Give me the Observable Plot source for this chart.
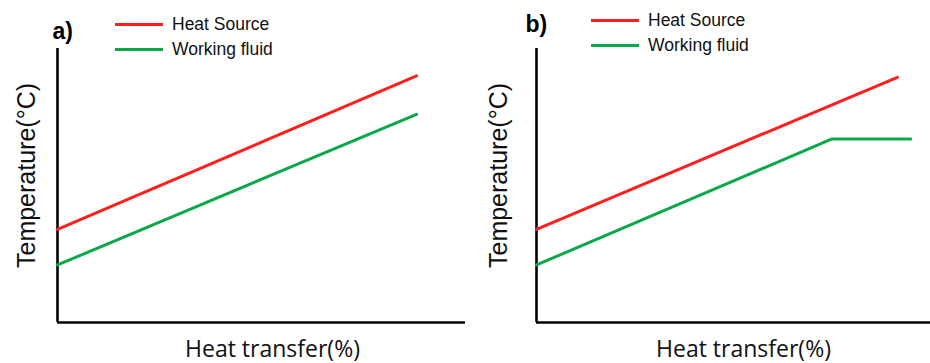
<!DOCTYPE html>
<html>
<head>
<meta charset="utf-8">
<script src="https://cdn.jsdelivr.net/npm/d3@7"></script>
<script src="https://cdn.jsdelivr.net/npm/@observablehq/plot@0.6"></script>
<style>
  html, body { margin: 0; padding: 0; background: #fff; }
  #wrap { position: relative; width: 930px; height: 363px; display: flex; }
  .legend { position: absolute; font-family: "Liberation Sans", Arial, sans-serif; font-size: 17.5px; color: #111; }
  .legend .row { display: flex; align-items: center; height: 25px; }
  .legend .sw { width: 48px; height: 3px; margin-right: 9px; }
</style>
</head>
<body>
<div id="wrap"></div>
<script>
// ---- data ----
const seriesNames = ["Heat Source", "Working fluid"];
const seriesColors = ["#ff1e1e", "#0ba84a"];
const panelLabels = ["a)", "b)"];
const xLabel = "Heat transfer(%)";
const yLabel = "Temperature(\u00B0C)";

// panel a (x: heat transfer %, y: temperature, arbitrary units 0-100)
const aHeatX = [0, 88];
const aHeatY = [34, 90];
const aFluidX = [0, 88];
const aFluidY = [21, 76];
// panel b
const bHeatX = [0, 91.6];
const bHeatY = [34, 89.5];
const bFluidX = [0, 75, 95];
const bFluidY = [21, 67, 67];

function rows(name, xs, ys) { return xs.map((x, i) => ({series: name, x, y: ys[i]})); }

const panels = [
  {
    label: panelLabels[0],
    data: [...rows(seriesNames[0], aHeatX, aHeatY), ...rows(seriesNames[1], aFluidX, aFluidY)],
    marginLeft: 57, labelDx: -5, labelDy: -17, yLabDx: -31, xLabDx: 11,
    legend: {left: 115, top: 11.5}
  },
  {
    label: panelLabels[1],
    data: [...rows(seriesNames[0], bHeatX, bHeatY), ...rows(seriesNames[1], bFluidX, bFluidY)],
    marginLeft: 71, labelDx: -11, labelDy: -24, yLabDx: -38, xLabDx: 10,
    legend: {left: 591, top: 7.5}
  }
];

const wrap = document.getElementById("wrap");

panels.forEach(p => {
  const chart = Plot.plot({
    width: 465,
    height: 363,
    marginLeft: p.marginLeft,
    marginRight: 0,
    marginTop: 48,
    marginBottom: 41,
    x: {domain: [0, 100], axis: null},
    y: {domain: [0, 100], axis: null},
    color: {domain: seriesNames, range: seriesColors},
    style: {background: "white", overflow: "visible"},
    marks: [
      Plot.ruleX([0], {stroke: "#000", strokeWidth: 2.6}),
      Plot.ruleY([0], {stroke: "#000", strokeWidth: 2.6}),
      Plot.line(p.data, {x: "x", y: "y", z: "series", stroke: "series", strokeWidth: 3, strokeLinecap: "round"}),
      Plot.text([xLabel], {frameAnchor: "bottom", lineAnchor: "bottom", dy: 34, dx: p.xLabDx, fontSize: 23, fontFamily: "Open Sans, sans-serif", fill: "#111"}),
      Plot.text([yLabel], {frameAnchor: "left", textAnchor: "middle", lineAnchor: "middle", rotate: -90, dx: p.yLabDx, dy: -10, fontSize: 25, fontFamily: "Liberation Sans, Arial, sans-serif", fill: "#111"}),
      Plot.text([p.label], {frameAnchor: "top-left", textAnchor: "start", lineAnchor: "middle", dx: p.labelDx, dy: p.labelDy, fontSize: 23, fontWeight: "bold", fontFamily: "Liberation Sans, Arial, sans-serif", fill: "#000"})
    ]
  });
  wrap.appendChild(chart);

  const lg = document.createElement("div");
  lg.className = "legend";
  lg.style.left = p.legend.left + "px";
  lg.style.top = p.legend.top + "px";
  seriesNames.forEach((n, i) => {
    const r = document.createElement("div");
    r.className = "row";
    const sw = document.createElement("div");
    sw.className = "sw";
    sw.style.background = seriesColors[i];
    const t = document.createElement("span");
    t.textContent = n;
    r.appendChild(sw); r.appendChild(t);
    lg.appendChild(r);
  });
  wrap.appendChild(lg);
});
</script>
</body>
</html>
